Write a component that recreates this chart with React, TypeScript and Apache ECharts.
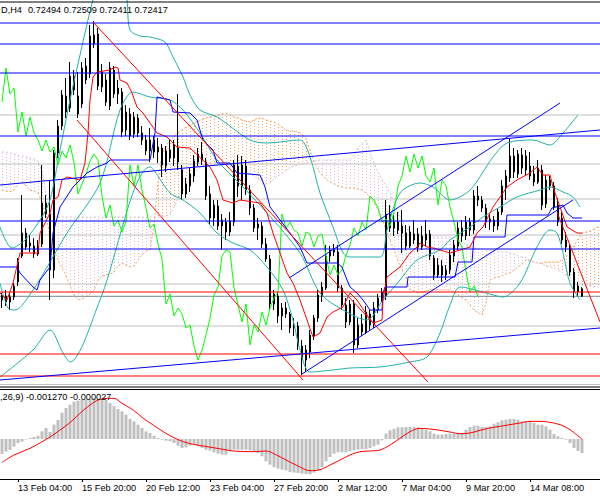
import React, { useEffect, useRef } from "react";
import * as echarts from "echarts";

// ---- candles (NZDUSD H4, 12 Feb - 16 Mar) ----
const opens = [
  0.7238, 0.7242, 0.7236, 0.7241, 0.7256, 0.7282, 0.7305, 0.7295, 0.7292, 0.7284,
  0.7294, 0.7335, 0.7324, 0.7268, 0.7385, 0.7412, 0.7442, 0.743, 0.7462, 0.7442,
  0.7434, 0.7472, 0.7464, 0.7494, 0.7504, 0.7451, 0.7458, 0.7432, 0.7468, 0.7444,
  0.7446, 0.7408, 0.7424, 0.7404, 0.742, 0.7405, 0.7398, 0.7387, 0.7398, 0.7386,
  0.739, 0.7372, 0.7388, 0.738, 0.739, 0.7368, 0.7344, 0.7352, 0.7362, 0.7376,
  0.7384, 0.7376, 0.7344, 0.732, 0.7332, 0.7312, 0.7316, 0.7306, 0.7316, 0.7372,
  0.7352, 0.7372, 0.7348, 0.733, 0.731, 0.7312, 0.7294, 0.7279, 0.7234, 0.7242,
  0.7222, 0.723, 0.7224, 0.721, 0.7212, 0.7192, 0.7178, 0.7186, 0.7202, 0.722,
  0.7242, 0.725, 0.7282, 0.7288, 0.7286, 0.725, 0.7233, 0.7216, 0.7234, 0.7193,
  0.7214, 0.7206, 0.7224, 0.7213, 0.7228, 0.724, 0.7242, 0.7324, 0.731, 0.7316,
  0.7312, 0.7305, 0.7292, 0.7298, 0.7304, 0.7291, 0.7298, 0.7304, 0.728, 0.7263,
  0.7272, 0.7263, 0.7268, 0.7282, 0.7292, 0.731, 0.7302, 0.7316, 0.7308, 0.7342,
  0.7338, 0.733, 0.7316, 0.7318, 0.7312, 0.7326, 0.735, 0.736, 0.7382, 0.7364,
  0.7383, 0.7368, 0.7372, 0.7364, 0.7356, 0.7368, 0.7334, 0.7358, 0.7352, 0.7333,
  0.732, 0.7298, 0.729, 0.7266, 0.7246, 0.72494,
];
const closes = [
  0.7242, 0.7236, 0.7241, 0.7252, 0.7276, 0.7305, 0.7291, 0.7292, 0.7284, 0.7292,
  0.7335, 0.7324, 0.7268, 0.7385, 0.7412, 0.7443, 0.7426, 0.7462, 0.7448, 0.7424,
  0.747, 0.7458, 0.7502, 0.7503, 0.7452, 0.7466, 0.7436, 0.747, 0.7444, 0.745,
  0.7406, 0.7426, 0.7402, 0.7421, 0.7405, 0.7398, 0.7387, 0.7398, 0.7386, 0.7391,
  0.7373, 0.7387, 0.738, 0.7393, 0.7376, 0.7344, 0.7354, 0.7364, 0.7377, 0.7384,
  0.7378, 0.7342, 0.732, 0.7333, 0.7312, 0.7318, 0.7306, 0.7317, 0.7373, 0.7352,
  0.7373, 0.7348, 0.733, 0.731, 0.7314, 0.7294, 0.7279, 0.7234, 0.7244, 0.7222,
  0.723, 0.7224, 0.721, 0.7213, 0.7192, 0.7178, 0.7188, 0.7203, 0.722, 0.7243,
  0.7251, 0.7282, 0.7288, 0.7286, 0.725, 0.7233, 0.7216, 0.7234, 0.7193, 0.7213,
  0.7206, 0.7226, 0.7213, 0.723, 0.724, 0.7246, 0.7324, 0.731, 0.7316, 0.7308,
  0.7305, 0.7292, 0.7306, 0.7304, 0.7291, 0.7302, 0.7304, 0.7282, 0.7263, 0.7273,
  0.7263, 0.7268, 0.7283, 0.7293, 0.731, 0.7302, 0.7316, 0.7308, 0.7342, 0.7338,
  0.733, 0.7316, 0.7319, 0.7312, 0.7326, 0.7352, 0.7362, 0.7382, 0.7366, 0.7384,
  0.737, 0.7382, 0.7362, 0.7356, 0.737, 0.7333, 0.7358, 0.7352, 0.7331, 0.7316,
  0.7298, 0.7291, 0.7266, 0.7246, 0.7252, 0.72417,
];
const lows = [
  0.723, 0.7232, 0.7228, 0.7238, 0.7252, 0.728, 0.7288, 0.7286, 0.728, 0.7282,
  0.7291, 0.732, 0.7238, 0.726, 0.738, 0.7408, 0.742, 0.7426, 0.7443, 0.742,
  0.743, 0.7454, 0.746, 0.749, 0.7448, 0.7446, 0.7432, 0.7428, 0.744, 0.7434,
  0.7401, 0.7402, 0.7398, 0.74, 0.7401, 0.7393, 0.7383, 0.7376, 0.738, 0.7375,
  0.7361, 0.7366, 0.7376, 0.7372, 0.7368, 0.7338, 0.734, 0.7346, 0.7356, 0.7372,
  0.7373, 0.7338, 0.7314, 0.7312, 0.7308, 0.7288, 0.7298, 0.7302, 0.7312, 0.7341,
  0.7338, 0.7343, 0.7323, 0.7306, 0.7298, 0.729, 0.7276, 0.7228, 0.7228, 0.7215,
  0.7208, 0.722, 0.7205, 0.7202, 0.7188, 0.7163, 0.7166, 0.718, 0.7198, 0.7216,
  0.7236, 0.7248, 0.7276, 0.7282, 0.7246, 0.7228, 0.721, 0.7213, 0.7185, 0.719,
  0.7202, 0.7204, 0.7208, 0.721, 0.7225, 0.7236, 0.7238, 0.7306, 0.7302, 0.7304,
  0.7285, 0.7288, 0.729, 0.7294, 0.7286, 0.7288, 0.7292, 0.7278, 0.7258, 0.726,
  0.7256, 0.7258, 0.7264, 0.7276, 0.7288, 0.7296, 0.7298, 0.7302, 0.7304, 0.7332,
  0.7326, 0.731, 0.7308, 0.7306, 0.7308, 0.7323, 0.7338, 0.7356, 0.736, 0.736,
  0.7364, 0.7362, 0.7358, 0.7352, 0.7354, 0.7328, 0.733, 0.7348, 0.7328, 0.7312,
  0.7294, 0.7286, 0.7262, 0.724, 0.7242, 0.72411,
];
const highs = [
  0.7245, 0.7248, 0.7246, 0.7255, 0.728, 0.7343, 0.731, 0.7303, 0.73, 0.7298,
  0.7373, 0.7343, 0.7358, 0.7388, 0.7418, 0.7448, 0.746, 0.7476, 0.7468, 0.7466,
  0.7476, 0.748, 0.7513, 0.7517, 0.751, 0.7474, 0.7464, 0.7476, 0.7472, 0.7458,
  0.745, 0.7433, 0.743, 0.7426, 0.7424, 0.7412, 0.7403, 0.741, 0.7402, 0.74,
  0.7394, 0.7392, 0.7398, 0.7398, 0.7444, 0.7373, 0.736, 0.737, 0.7383, 0.739,
  0.7396, 0.738, 0.7352, 0.7338, 0.7338, 0.7324, 0.732, 0.7326, 0.7378, 0.7383,
  0.7382, 0.7378, 0.7353, 0.7334, 0.732, 0.7316, 0.73, 0.7283, 0.7248, 0.7246,
  0.7235, 0.7236, 0.7226, 0.722, 0.7216, 0.7198, 0.7193, 0.7208, 0.7223, 0.7248,
  0.7256, 0.7293, 0.7292, 0.7294, 0.7293, 0.7253, 0.724, 0.7238, 0.7238, 0.722,
  0.7224, 0.7232, 0.7228, 0.7236, 0.7244, 0.725, 0.7338, 0.7333, 0.7323, 0.7326,
  0.7328, 0.7313, 0.7312, 0.7318, 0.731, 0.7312, 0.7318, 0.7308, 0.7283, 0.728,
  0.7278, 0.7273, 0.7288, 0.7298, 0.7316, 0.7318, 0.7322, 0.732, 0.7348, 0.7352,
  0.7342, 0.7334, 0.7324, 0.7322, 0.733, 0.7358, 0.7368, 0.74, 0.739, 0.7388,
  0.739, 0.7388, 0.7386, 0.7372, 0.7378, 0.7373, 0.7363, 0.7362, 0.7356, 0.734,
  0.7326, 0.7306, 0.7294, 0.727, 0.7256, 0.72509,
];

// ---- time axis ----
const SLOTS = 150; // bars + shift space
const tickIndex = [4, 20, 36, 52, 68, 84, 100, 116, 132];
const tickLabels = [
  "13 Feb 04:00", "15 Feb 20:00", "20 Feb 12:00", "23 Feb 04:00", "27 Feb 20:00",
  "2 Mar 12:00", "7 Mar 04:00", "9 Mar 20:00", "14 Mar 08:00",
];

// ---- Ichimoku cloud (Senkou spans, per bar incl. forward shift) ----
const spanA = [
  0.7348, 0.7347, 0.7346, 0.7348, 0.7354, 0.7356, 0.7352, 0.7348, 0.7347, 0.7345,
  0.7336, 0.7321, 0.7303, 0.7288, 0.7278, 0.727, 0.7262, 0.7252, 0.7243, 0.7238,
  0.7239, 0.7241, 0.7244, 0.7248, 0.7258, 0.7262, 0.7263, 0.7264, 0.7266, 0.7272,
  0.7275, 0.7273, 0.7271, 0.7272, 0.7278, 0.7283, 0.7287, 0.7288, 0.7313, 0.7356,
  0.7383, 0.7392, 0.7398, 0.7402, 0.7405, 0.7408, 0.7411, 0.7413, 0.7415, 0.7417,
  0.7419, 0.742, 0.7421, 0.7422, 0.7423, 0.7424, 0.7425, 0.7423, 0.7421, 0.742,
  0.7418, 0.7417, 0.7416, 0.7418, 0.742, 0.742, 0.7418, 0.7417, 0.7416, 0.7414,
  0.7411, 0.7408, 0.7407, 0.7407, 0.7406, 0.7404, 0.7399, 0.7388, 0.7376, 0.7368,
  0.7363, 0.7359, 0.7356, 0.7354, 0.7352, 0.7351, 0.735, 0.735, 0.735, 0.7349,
  0.7348, 0.7345, 0.7341, 0.7335, 0.7328, 0.732, 0.7308, 0.7298, 0.7288, 0.7277,
  0.7268, 0.726, 0.7248, 0.7247, 0.7245, 0.7246, 0.7247, 0.7248, 0.7248, 0.7248,
  0.7248, 0.7248, 0.7248, 0.7246, 0.7243, 0.724, 0.7238, 0.7233, 0.7228, 0.7225,
  0.7223, 0.7235, 0.7258, 0.726, 0.7261, 0.7262, 0.7264, 0.7265, 0.7268, 0.7271,
  0.7274, 0.7278, 0.7277, 0.7276, 0.7275, 0.7275, 0.7276, 0.7276, 0.7276, 0.7276,
  0.7278, 0.7282, 0.7285, 0.7292, 0.7299, 0.7305, 0.7306, 0.7307, 0.7309, 0.7311,
];
const spanB = [
  0.7386, 0.7386, 0.7385, 0.7384, 0.7383, 0.7382, 0.7381, 0.738, 0.7379, 0.7377,
  0.7367, 0.7345, 0.7327, 0.7321, 0.7321, 0.7321, 0.7321, 0.7321, 0.7321, 0.7321,
  0.7321, 0.7321, 0.7321, 0.7321, 0.7321, 0.7321, 0.7321, 0.7321, 0.7321, 0.7321,
  0.7321, 0.7321, 0.7321, 0.7321, 0.7321, 0.7321, 0.7321, 0.7321, 0.7321, 0.7321,
  0.7321, 0.7322, 0.7323, 0.7331, 0.7339, 0.7346, 0.7353, 0.736, 0.7365, 0.7369,
  0.7372, 0.7373, 0.7374, 0.7375, 0.7375, 0.7374, 0.7373, 0.7372, 0.7371, 0.7369,
  0.7368, 0.7366, 0.7364, 0.7362, 0.7359, 0.7357, 0.7354, 0.7355, 0.7359, 0.7362,
  0.7365, 0.7368, 0.7371, 0.7372, 0.7373, 0.7374, 0.7375, 0.7376, 0.7377, 0.7378,
  0.7378, 0.7378, 0.7378, 0.7378, 0.7378, 0.7378, 0.7378, 0.7378, 0.7383, 0.739,
  0.7395, 0.7398, 0.7385, 0.7375, 0.7366, 0.7359, 0.7352, 0.7345, 0.7335, 0.7326,
  0.7317, 0.7311, 0.7305, 0.7303, 0.7302, 0.7301, 0.7301, 0.7301, 0.7301, 0.7301,
  0.7301, 0.7301, 0.7301, 0.73, 0.7299, 0.7296, 0.7294, 0.7291, 0.729, 0.7289,
  0.7289, 0.7288, 0.7288, 0.7287, 0.7287, 0.7286, 0.7286, 0.7285, 0.7284, 0.7282,
  0.7281, 0.728, 0.7278, 0.7276, 0.7275, 0.7274, 0.7272, 0.7271, 0.727, 0.7268,
  0.7266, 0.7262, 0.7258, 0.7256, 0.7254, 0.7253, 0.7252, 0.7252, 0.7251, 0.7251,
];

// ---- Tenkan / Kijun / Bollinger (read at sample bars: [bar, price]) ----
const tenkan = [
  [-0.5, 0.7245], [1.25, 0.7238], [2.75, 0.7255], [4.5, 0.7285], [9, 0.7285], [9.5, 0.7305],
  [10.25, 0.7311], [12, 0.7325], [12.75, 0.7338], [14, 0.7341], [15, 0.7358], [16.25, 0.7361],
  [19.5, 0.7358], [20.75, 0.7375], [21.5, 0.7405], [22, 0.7438], [22.75, 0.7461], [23.75, 0.7466],
  [27, 0.7468], [28.25, 0.7471], [29, 0.747], [29.5, 0.7458], [31.25, 0.7455], [32.5, 0.7445],
  [33.75, 0.7431], [35.25, 0.7425], [37, 0.7415], [38.75, 0.7405], [41.25, 0.7401], [43.75, 0.7391],
  [47, 0.739], [52, 0.7371], [53.75, 0.7358], [55.25, 0.7338], [57.75, 0.7335], [59.5, 0.7338],
  [64.5, 0.7335], [66.25, 0.7325], [67.75, 0.7305], [69.5, 0.7285], [71.25, 0.7265], [72.75, 0.7255],
  [74.5, 0.7238], [76.25, 0.7218], [77.75, 0.7201], [79.5, 0.7205], [81.25, 0.7221], [82.75, 0.7226],
  [85.25, 0.7231], [87, 0.7245], [88.75, 0.7238], [91.25, 0.7223], [92.75, 0.7215], [95, 0.7218],
  [95.25, 0.7238], [96.25, 0.7261], [99.5, 0.7271], [102, 0.7285], [103.75, 0.7291], [104.5, 0.7295],
  [106.25, 0.7291], [107.75, 0.729], [112, 0.7285], [117, 0.7291], [118.75, 0.7305], [120.25, 0.7311],
  [122.75, 0.7331], [126.25, 0.7351], [128.75, 0.7358], [132, 0.7365], [133.75, 0.7371], [135.25, 0.7363],
  [137, 0.7363], [137.75, 0.7351], [139.5, 0.7331], [141.25, 0.7311], [143.75, 0.7305], [145, 0.7305],
];
const kijun = [
  [-0.5, 0.7271], [3.75, 0.7271], [4.5, 0.7265], [7.75, 0.7251], [8.75, 0.7248], [9.5, 0.7258],
  [12, 0.7271], [12.75, 0.7305], [14.5, 0.7331], [17.75, 0.7351], [21.25, 0.7365], [23.75, 0.7371],
  [26.25, 0.7375], [27, 0.7378], [37, 0.7378], [38.25, 0.7405], [38.75, 0.7441], [42, 0.7438],
  [42.75, 0.7426], [47, 0.7425], [48.75, 0.7418], [50.25, 0.7398], [52.75, 0.7388], [53.75, 0.7375],
  [57, 0.7375], [58.75, 0.7365], [64.5, 0.7363], [65.75, 0.7351], [67, 0.7331], [69.5, 0.7318],
  [72, 0.7305], [74.5, 0.7291], [76.25, 0.7275], [83.75, 0.7275], [85, 0.7271], [86.25, 0.7258],
  [87, 0.7251], [88.75, 0.7245], [90.25, 0.7238], [92, 0.7228], [95, 0.7228], [95.25, 0.7245],
  [95.75, 0.7251], [101.25, 0.7251], [101.5, 0.7261], [113.25, 0.7261], [114, 0.7276], [117.5, 0.7276],
  [118, 0.7301], [125.75, 0.7301], [126.25, 0.7323], [136.5, 0.7323], [137.5, 0.733], [140.25, 0.7333],
  [141.25, 0.7325], [142.75, 0.732], [145, 0.732],
];
const bbUpper = [
  [-0.5, 0.7311], [2.5, 0.729], [5.75, 0.7298], [9.5, 0.7318], [12, 0.7338], [14.5, 0.7388],
  [17, 0.7438], [19.5, 0.7483], [21.5, 0.7518], [22.75, 0.7538], [24.5, 0.7558], [28.25, 0.7563],
  [30.75, 0.7548], [31.25, 0.7538], [32, 0.7508], [34.5, 0.7502], [37, 0.7501], [40.75, 0.7496],
  [42.5, 0.7483], [45.25, 0.7461], [47, 0.7443], [49.5, 0.7428], [53.75, 0.7421], [62, 0.7398],
  [66.25, 0.7395], [74.5, 0.7398], [77, 0.7381], [79.5, 0.7345], [82.75, 0.7311], [85.25, 0.7285],
  [87, 0.7281], [94.5, 0.7281], [96.25, 0.7308], [99.5, 0.7345], [104.5, 0.7355], [107.75, 0.7351],
  [112, 0.7338], [117, 0.7348], [122.75, 0.7381], [126.25, 0.7395], [132.75, 0.7398], [137, 0.7393],
  [140.25, 0.7405], [144, 0.7423],
];
const bbMiddle = [
  [-0.5, 0.7255], [1.5, 0.723], [3.25, 0.7228], [7.75, 0.7248], [12, 0.7276], [16.25, 0.7305],
  [24.5, 0.7355], [29.5, 0.7428], [32.75, 0.7446], [37, 0.7441], [42, 0.7438], [45.25, 0.7428],
  [49.5, 0.7405], [53.75, 0.7378], [60.25, 0.7351], [66.25, 0.7325], [74.5, 0.7285], [79.5, 0.7245],
  [85.25, 0.7228], [91.25, 0.7218], [95.25, 0.7238], [99.5, 0.7258], [103.75, 0.7278], [109.5, 0.7288],
  [112, 0.7298], [117, 0.7311], [120.25, 0.7321], [124.5, 0.7331], [128.75, 0.7341], [134.5, 0.7348],
  [137, 0.7351], [140.25, 0.7346], [142.75, 0.7341], [144.5, 0.7331],
];
const bbLower = [
  [-0.5, 0.7161], [7.75, 0.7188], [12, 0.7208], [15.25, 0.7185], [17, 0.7176], [24.5, 0.7238],
  [37, 0.7371], [42, 0.7345], [45.25, 0.7338], [49.5, 0.7325], [53.75, 0.7305], [57.75, 0.7295],
  [62, 0.7288], [66.25, 0.7271], [70.25, 0.7248], [72.75, 0.7218], [74.5, 0.7188], [77, 0.7166],
  [82.75, 0.7168], [87, 0.717], [94.5, 0.7171], [102, 0.7176], [106.25, 0.7181], [109.5, 0.7205],
  [112, 0.7233], [114.5, 0.7251], [120.25, 0.7246], [125.25, 0.7241], [129.5, 0.7255], [133.75, 0.7291],
  [137, 0.7308], [138.75, 0.7305], [140.25, 0.7285], [142, 0.7255], [144.5, 0.7238],
];
const CHIKOU_SHIFT = 26;

// ---- drawn objects ----
const blueLevels = [0.7515, 0.7494, 0.7465, 0.7402, 0.7317, 0.7289];
const redLevels = [0.7246, 0.7184, 0.7162];
const greyLevels = [0.7423, 0.7374, 0.7339, 0.7303, 0.7254, 0.7212];
const redTrendLines = [
  [[22.75, 0.7516], [106.5, 0.7156]],
  [[18.75, 0.7418], [75.25, 0.7158]],
  [[138.75, 0.7326], [149.5, 0.7216]],
];
const blueTrendLines = [
  [[-0.5, 0.7353], [149.5, 0.7408]],
  [[-0.5, 0.7158], [149.5, 0.721]],
  [[71.75, 0.726], [139.5, 0.7435]],
  [[75, 0.7164], [142.75, 0.7338]],
];

// ---- MACD(12,26,9) ----
const macdHist = [
  -0.00135, -0.00114, -0.00099, -0.00069, -0.00036, -0.00024, -0.00005, 0.00009, 0.00018, 0.0003,
  0.00069, 0.00099, 0.00063, 0.00129, 0.00171, 0.00237, 0.00279, 0.00309, 0.00336, 0.00345,
  0.00351, 0.00357, 0.0036, 0.00365, 0.0036, 0.00357, 0.00351, 0.00324, 0.00294, 0.0027,
  0.00249, 0.00219, 0.0018, 0.00159, 0.00129, 0.00099, 0.00069, 0.00054, 0.0003, 0.00009,
  -0.00006, -0.00015, -0.00021, -0.00036, -0.0006, -0.00081, -0.00075, -0.0006, -0.00051, -0.00066,
  -0.00081, -0.00096, -0.00105, -0.0012, -0.00132, -0.00141, -0.00141, -0.00111, -0.00096, -0.00096,
  -0.00096, -0.00096, -0.00102, -0.00111, -0.00126, -0.00156, -0.00201, -0.00231, -0.00252, -0.00267,
  -0.00276, -0.00282, -0.00297, -0.00302, -0.00306, -0.00311, -0.00315, -0.00318, -0.00303, -0.00288,
  -0.00252, -0.00201, -0.00162, -0.00132, -0.0012, -0.0012, -0.0012, -0.00111, -0.00102, -0.00096,
  -0.0009, -0.0009, -0.00081, -0.00066, -0.00051, -0.00012, 0.00048, 0.00078, 0.0009, 0.00105,
  0.00105, 0.00108, 0.00108, 0.00108, 0.00105, 0.00099, 0.00084, 0.00069, 0.00048, 0.00039,
  0.00039, 0.00045, 0.00048, 0.00048, 0.00054, 0.00054, 0.00084, 0.00108, 0.0012, 0.0012,
  0.00108, 0.00108, 0.00114, 0.00138, 0.0015, 0.00168, 0.00174, 0.0018, 0.0018, 0.00174,
  0.00159, 0.00159, 0.00159, 0.00144, 0.00129, 0.00129, 0.00114, 0.00084, 0.00045, 0.00024,
  0.00009, -0.00006, -0.00036, -0.00081, -0.00108, -0.00127,
];
const macdSignal = [
  [0, -0.0021], [3, -0.00144], [7, -0.00084], [12, 0.00018], [14.5, 0.00081], [17, 0.00147],
  [19.5, 0.00231], [22, 0.00306], [24.5, 0.00357], [27, 0.00366], [28, 0.00366], [30, 0.00321],
  [32.8, 0.00261], [35.3, 0.00186], [37.8, 0.00126], [40.3, 0.00066], [42.8, 0.00015], [45.3, -0.00024],
  [47.8, -0.00048], [50.3, -0.00063], [52.8, -0.00078], [55.3, -0.00093], [57.8, -0.00108], [62.8, -0.00114],
  [66, -0.00108], [68.6, -0.00144], [71, -0.00189], [74, -0.00243], [77, -0.00285], [79.5, -0.00276],
  [82, -0.00234], [84.5, -0.00189], [87, -0.00144], [89.5, -0.00114], [92, -0.00108], [94.5, -0.00099],
  [97, -0.00054], [99.5, 0.00006], [102, 0.00066], [104.5, 0.00096], [107, 0.0009], [109.5, 0.00078],
  [112, 0.00063], [114.5, 0.00048], [117, 0.00054], [119.5, 0.00078], [122, 0.00099], [124.5, 0.00114],
  [127, 0.00129], [129.5, 0.00144], [132, 0.00159], [134.5, 0.00159], [137, 0.0015], [139.5, 0.00129],
  [142, 0.00084], [145, -0.000027],
];

const FONT = "Liberation Sans";
const BLUE = "#0000ff";
const RED = "#ff0000";
const TEAL = "#20b2aa";

export default function App() {
  const ref = useRef<HTMLDivElement>(null);
  useEffect(() => {
    const chart = echarts.init(ref.current as HTMLDivElement, null, { renderer: "svg" });
    const cats = Array.from({ length: SLOTS }, (_, i) => String(i));
    const isTick = (index: number) => tickIndex.indexOf(index) >= 0;
    const last = closes.length - 1;

    const lineOn = (data: number[][], color: string, z: number, extra: any = {}) => ({
      type: "line",
      xAxisIndex: 1,
      yAxisIndex: 0,
      data,
      symbol: "none",
      silent: true,
      z,
      lineStyle: { color, width: 1, ...(extra.lineStyle || {}) },
      smooth: extra.smooth || 0,
      clip: true,
    });
    const level = (p: number, color: string, z: number) =>
      lineOn([[-0.5, p], [SLOTS - 0.5, p]], color, z);

    const hatch = spanA.map((a, i) => [i, a, spanB[i]]);
    const chikou = closes.slice(CHIKOU_SHIFT).map((c, k) => [k, c]);

    const series: any[] = [
      ...greyLevels.map((p) => level(p, "#c0c0c0", 1)),
      {
        type: "custom",
        xAxisIndex: 1,
        yAxisIndex: 0,
        silent: true,
        z: 1,
        clip: true,
        data: hatch,
        encode: { x: 0, y: [1, 2] },
        renderItem: (params: any, api: any) => {
          const i = api.value(0);
          const a = api.value(1);
          const b = api.value(2);
          const pa = api.coord([i, a]);
          const pb = api.coord([i, b]);
          return {
            type: "line",
            shape: { x1: pa[0] + 0.5, y1: pa[1], x2: pb[0] + 0.5, y2: pb[1] },
            style: { stroke: a >= b ? "#f4a460" : "#d8bfd8", lineWidth: 1, lineDash: [1, 2] },
          };
        },
      },
      lineOn(spanA.map((v, i) => [i, v]), "#f4a460", 2, { lineStyle: { type: [2, 2] } }),
      lineOn(spanB.map((v, i) => [i, v]), "#d8bfd8", 2, { lineStyle: { type: [2, 2] } }),
      level(closes[last], "#778899", 2),
      {
        type: "candlestick",
        xAxisIndex: 0,
        yAxisIndex: 0,
        z: 3,
        barWidth: 2,
        silent: true,
        data: opens.map((o, i) => [o, closes[i], lows[i], highs[i]]),
        itemStyle: {
          color: "#000000",
          color0: "#ffffff",
          borderColor: "#000000",
          borderColor0: "#000000",
          borderWidth: 1,
        },
      },
      lineOn(bbUpper, TEAL, 4, { smooth: 0.3 }),
      lineOn(bbMiddle, TEAL, 4, { smooth: 0.3 }),
      lineOn(bbLower, TEAL, 4, { smooth: 0.3 }),
      lineOn(chikou, "#00ff00", 4),
      lineOn(kijun, BLUE, 4),
      lineOn(tenkan, RED, 4),
      ...blueLevels.map((p) => level(p, BLUE, 5)),
      ...redLevels.map((p) => level(p, RED, 5)),
      ...redTrendLines.map((seg) => lineOn(seg, RED, 5)),
      ...blueTrendLines.map((seg) => lineOn(seg, BLUE, 5)),
      {
        type: "bar",
        xAxisIndex: 2,
        yAxisIndex: 1,
        data: macdHist,
        barWidth: 3,
        silent: true,
        itemStyle: { color: "#c0c0c0" },
      },
      {
        type: "line",
        xAxisIndex: 3,
        yAxisIndex: 1,
        data: macdSignal,
        symbol: "none",
        smooth: 0.35,
        silent: true,
        lineStyle: { color: RED, width: 1 },
      },
    ];

    const header = [opens[last], highs[last], lows[last], closes[last]]
      .map((v) => v.toFixed(5))
      .join(" ");
    const macdText =
      ",26,9) " + macdHist[last].toFixed(6) + " " + macdSignal[macdSignal.length - 1][1].toFixed(6);

    const hl = (y: number, color: string) => ({
      type: "line",
      silent: true,
      shape: { x1: 0, y1: y, x2: 600, y2: y },
      style: { stroke: color, lineWidth: 1 },
      z: 10,
    });
    const txt = (x: number, y: number, text: string) => ({
      type: "text",
      x,
      y,
      silent: true,
      z: 20,
      style: {
        text,
        fill: "#000",
        fontSize: 9.2,
        fontFamily: FONT,
        verticalAlign: "middle",
        align: "left",
      },
    });

    chart.setOption({
      animation: false,
      backgroundColor: "#ffffff",
      grid: [
        { left: 0, right: 0, top: 0, height: 385 },
        { left: 0, right: 0, top: 389, height: 90 },
      ],
      xAxis: [
        { type: "category", gridIndex: 0, data: cats, boundaryGap: true, show: false },
        { type: "value", gridIndex: 0, min: -0.5, max: SLOTS - 0.5, show: false },
        {
          type: "category",
          gridIndex: 1,
          data: cats,
          boundaryGap: true,
          position: "bottom",
          axisLine: { show: true, onZero: false, lineStyle: { color: "#000", width: 1 } },
          axisTick: {
            show: true,
            alignWithLabel: true,
            interval: isTick,
            length: 3,
            lineStyle: { color: "#000" },
          },
          axisLabel: {
            interval: isTick,
            align: "left",
            margin: 4,
            fontSize: 9.2,
            fontFamily: FONT,
            color: "#000",
            formatter: (v: string) => {
              const k = tickIndex.indexOf(Number(v));
              return k >= 0 ? tickLabels[k] : "";
            },
          },
          splitLine: { show: false },
        },
        { type: "value", gridIndex: 1, min: -0.5, max: SLOTS - 0.5, show: false },
      ],
      yAxis: [
        { type: "value", gridIndex: 0, min: 0.7153, max: 0.7538, show: false, splitLine: { show: false } },
        { type: "value", gridIndex: 1, min: -0.0036, max: 0.0045, show: false, splitLine: { show: false } },
      ],
      series,
      graphic: [
        hl(2, "#000"),
        hl(384.5, "#c0c0c0"),
        hl(387, "#000"),
        hl(389.5, "#000"),
        txt(1, 10, "D,H4"),
        txt(28, 10, header),
        txt(0, 397, macdText),
      ],
    });
    return () => chart.dispose();
  }, []);
  return (
    <div
      ref={ref}
      style={{ position: "fixed", left: 0, top: 0, width: 600, height: 500, background: "#fff" }}
    />
  );
}
